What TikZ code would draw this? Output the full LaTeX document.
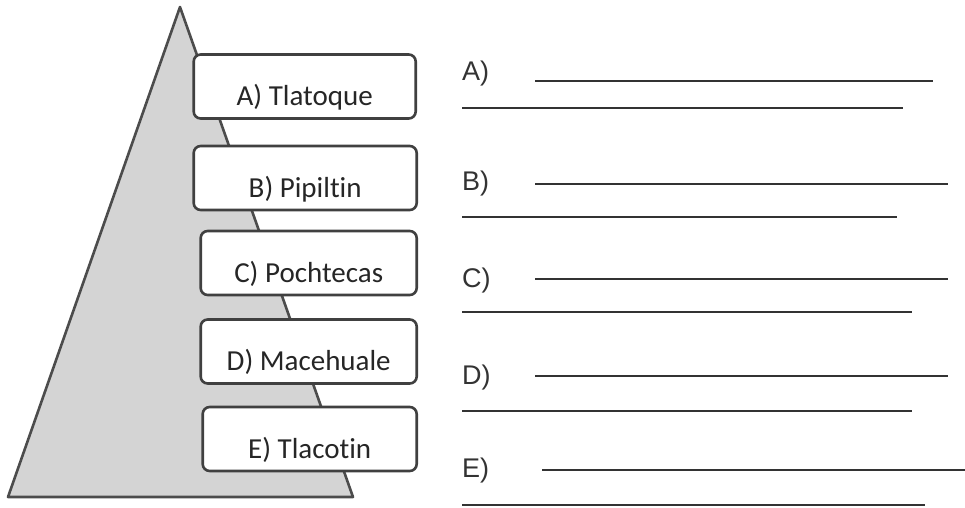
\documentclass[tikz,border=0pt]{standalone}
\usepackage{fontspec}
\setmainfont{Carlito}[Ligatures=CommonOff]
\newfontfamily\tagfont{Liberation Sans}
\begin{document}
\begin{tikzpicture}[x=1pt, y=-1pt,
	rung/.style={draw=black!75, line width=2.6pt, rounded corners=7pt, fill=white, inner sep=0pt, anchor=east, minimum height=64pt, text height=51pt, text depth=13pt, text=black!85, font=\fontsize{29}{33}\selectfont},
	tag/.style={anchor=base west, inner sep=0pt, text=black!80, font=\tagfont\fontsize{27}{31}\selectfont},
	blank/.style={black!80, line width=1.6pt}]
	\useasboundingbox (0,0) rectangle (965,507);
	\fill[black!17] (180,7) -- (353,497) -- (8,497) -- cycle;
	\draw[black!70, line width=2.6pt, line join=round] (180,7) -- (353,497) -- (8,497) -- cycle;
	\node[rung, minimum width=222pt] (tlatoque) at (417,86.5) {A) Tlatoque};
	\node[rung, minimum width=223pt] (pipiltin) at (418,178) {B) Pipiltin};
	\node[rung, minimum width=216pt] (pochtecas) at (418,263) {C) Pochtecas};
	\node[rung, minimum width=216pt] (macehuale) at (418,351.5) {D) Macehuale};
	\node[rung, minimum width=214pt] (tlacotin) at (418,439) {E) Tlacotin};
	\node[tag] (tagA) at (462,80) {A)};
	\node[tag] (tagB) at (462,190) {B)};
	\node[tag] (tagC) at (462,287) {C)};
	\node[tag] (tagD) at (462,384) {D)};
	\node[tag] (tagE) at (462,477) {E)};
	\draw[blank] (535,81) -- (933,81);
	\draw[blank] (462,108) -- (903,108);
	\draw[blank] (535,184) -- (948,184);
	\draw[blank] (462,217) -- (897,217);
	\draw[blank] (535,279) -- (948,279);
	\draw[blank] (462,312) -- (912,312);
	\draw[blank] (535,376) -- (948,376);
	\draw[blank] (462,411) -- (912,411);
	\draw[blank] (542,470) -- (965,470);
	\draw[blank] (462,505) -- (925,505);
\end{tikzpicture}
\end{document}
